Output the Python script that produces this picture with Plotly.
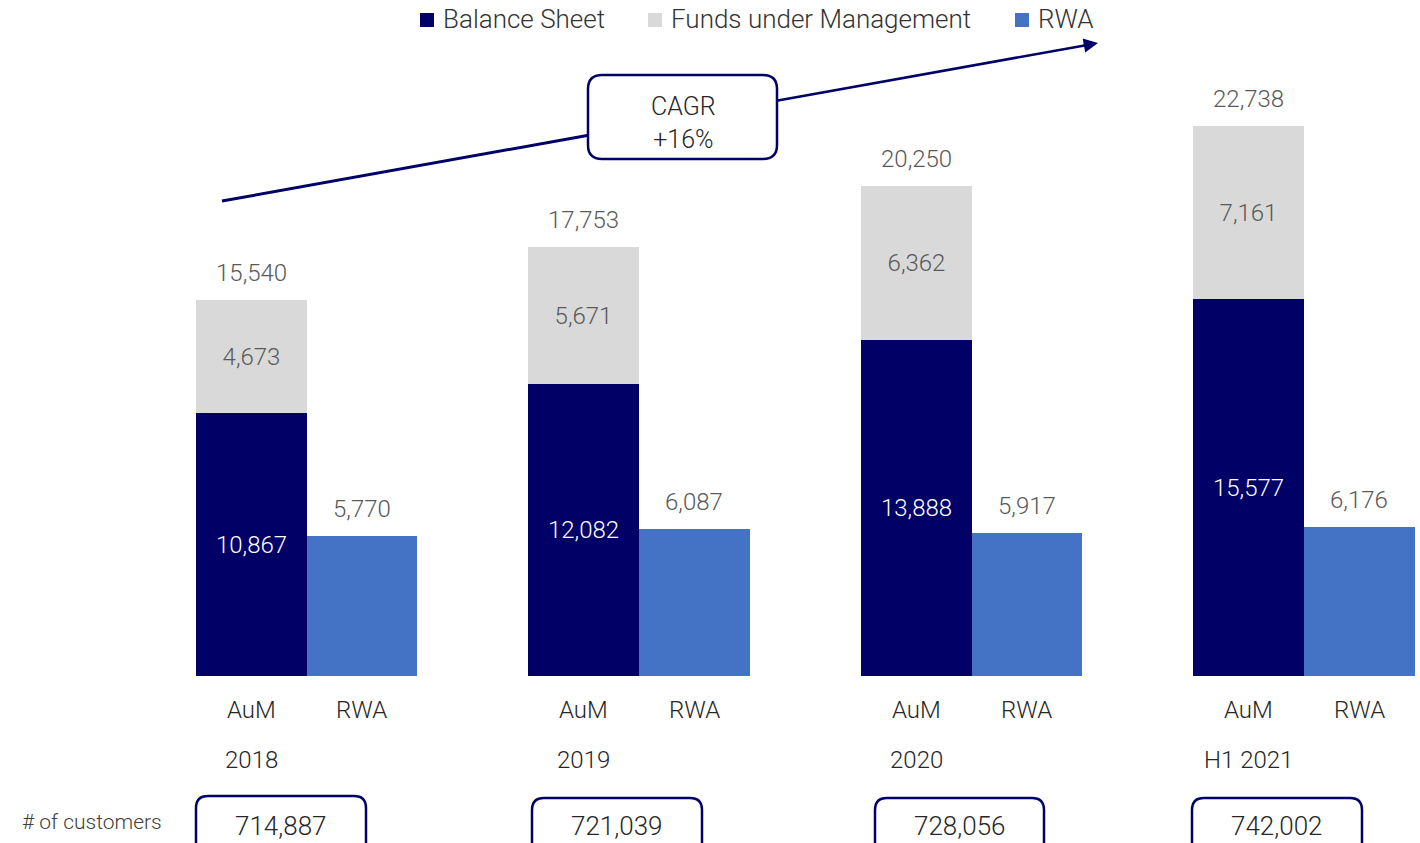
import plotly.graph_objects as go

# ---------------- data ----------------
periods = ["2018", "2019", "2020", "H1 2021"]
balance_sheet = [10867, 12082, 13888, 15577]
funds_under_mgmt = [4673, 5671, 6362, 7161]
rwa = [5770, 6087, 5917, 6176]
aum_total = [15540, 17753, 20250, 22738]
customers = [714887, 721039, 728056, 742002]
bar_labels = ["AuM", "RWA"]
series_names = ["Balance Sheet", "Funds under Management", "RWA"]
cagr_label = "CAGR<br>+16%"
customers_label = "# of customers"

# ---------------- style ----------------
W, H = 1420, 843
NAVY = "#000066"
GRAY = "#D9D9D9"
BLUE = "#4472C4"
VAL_TXT = "#595959"
DARK_TXT = "#262626"
FONT = "Roboto"
WT = 300


def px(x):
    return x / W


def py(y):
    return 1 - y / H


def fnt(size, color):
    return dict(size=size, color=color, family=FONT, weight=WT)


def rounded_rect(x0, y0, x1, y1, r):
    rx, ry = r / W, r / H
    X0, X1 = px(x0), px(x1)
    Y0, Y1 = py(y0), py(y1)
    return (
        f"M {X0 + rx},{Y0} L {X1 - rx},{Y0} Q {X1},{Y0} {X1},{Y0 - ry} "
        f"L {X1},{Y1 + ry} Q {X1},{Y1} {X1 - rx},{Y1} "
        f"L {X0 + rx},{Y1} Q {X0},{Y1} {X0},{Y1 + ry} "
        f"L {X0},{Y0 - ry} Q {X0},{Y0} {X0 + rx},{Y0} Z"
    )


bw = 1 / 3
idx = list(range(len(periods)))
aum_x = [i - bw / 2 for i in idx]
rwa_x = [i + bw / 2 for i in idx]
colors = [NAVY, GRAY, BLUE]

fig = go.Figure()
fig.add_trace(go.Bar(
    name=series_names[0], x=aum_x, y=balance_sheet, width=bw,
    marker=dict(color=NAVY, line=dict(width=0)),
    texttemplate="%{y:,.0f}", textposition="inside", insidetextanchor="middle",
    textfont=fnt(24, "white"), textangle=0, showlegend=False,
))
fig.add_trace(go.Bar(
    name=series_names[1], x=aum_x, y=funds_under_mgmt, width=bw,
    marker=dict(color=GRAY, line=dict(width=0)),
    texttemplate="%{y:,.0f}", textposition="inside", insidetextanchor="middle",
    textfont=fnt(24, VAL_TXT), textangle=0, showlegend=False,
))
fig.add_trace(go.Bar(
    name=series_names[2], x=rwa_x, y=rwa, width=bw,
    marker=dict(color=BLUE, line=dict(width=0)), showlegend=False,
))

annotations = []
shapes = []

# custom legend
leg_sq_x = [420, 648, 1015]
for sx, name, col in zip(leg_sq_x, series_names, colors):
    shapes.append(dict(type="rect", xref="paper", yref="paper",
                       x0=px(sx), x1=px(sx + 14), y0=py(27), y1=py(13),
                       fillcolor=col, line=dict(width=0)))
    annotations.append(dict(
        x=px(sx + 21), y=py(19), xref="paper", yref="paper", text=name,
        showarrow=False, xanchor="left", yanchor="middle", font=fnt(26, "#333333"),
    ))

# totals above AuM and values above RWA
for xv, yv in list(zip(aum_x, aum_total)) + list(zip(rwa_x, rwa)):
    annotations.append(dict(
        x=xv, y=yv, xref="x", yref="y", text=f"{yv:,}", showarrow=False,
        yanchor="bottom", yshift=11, font=fnt(24, VAL_TXT),
    ))
# AuM / RWA labels and period labels
for i in idx:
    for xv, lab in zip([aum_x[i], rwa_x[i]], bar_labels):
        annotations.append(dict(
            x=xv, y=py(710), xref="x", yref="paper", text=lab, showarrow=False,
            yanchor="middle", font=fnt(24, DARK_TXT),
        ))
    annotations.append(dict(
        x=aum_x[i], y=py(760), xref="x", yref="paper", text=periods[i], showarrow=False,
        yanchor="middle", font=fnt(24, DARK_TXT),
    ))

# customer boxes
box_x = [(196, 366), (532, 702), (875, 1044), (1192, 1362)]
box_top = [796, 798, 798, 798]
for (x0, x1), top, c in zip(box_x, box_top, customers):
    shapes.append(dict(type="path", xref="paper", yref="paper",
                       path=rounded_rect(x0, top, x1, top + 70, 12),
                       line=dict(color=NAVY, width=2.5), fillcolor="white"))
    annotations.append(dict(
        x=px((x0 + x1) / 2), y=py(826), xref="paper", yref="paper", text=f"{c:,}",
        showarrow=False, xanchor="center", yanchor="middle", font=fnt(26, DARK_TXT),
    ))
annotations.append(dict(
    x=px(20), y=py(822), xref="paper", yref="paper", text=customers_label,
    showarrow=False, xanchor="left", yanchor="middle", font=fnt(21, "#404040"),
))

# CAGR arrow + box
shapes.append(dict(type="line", xref="paper", yref="paper",
                   x0=px(222), y0=py(201), x1=px(590), y1=py(135),
                   line=dict(color=NAVY, width=3)))
annotations.append(dict(
    x=px(1098), y=py(43), xref="paper", yref="paper", text="",
    showarrow=True, ax=775 - 1098, ay=101 - 43, axref="pixel", ayref="pixel",
    arrowhead=2, arrowsize=1.1, arrowwidth=2.6, arrowcolor=NAVY, standoff=0,
))
shapes.append(dict(type="path", xref="paper", yref="paper",
                   path=rounded_rect(588, 75, 777, 159, 14),
                   line=dict(color=NAVY, width=2.5), fillcolor="white"))
annotations.append(dict(
    x=px(683), y=py(123), xref="paper", yref="paper", text=cagr_label,
    showarrow=False, yanchor="middle", align="center", font=fnt(25, DARK_TXT),
))

# axes: map data onto the pixel layout
grp0 = 306.5
step = 332.5
x_range = [-grp0 / step, (W - grp0) / step]
k = 0.02419  # px per unit
base = 676
y_range = [-(H - base) / k, base / k]

fig.update_layout(
    width=W, height=H,
    margin=dict(l=0, r=0, t=0, b=0, autoexpand=False),
    paper_bgcolor="white", plot_bgcolor="white",
    barmode="stack", bargap=0,
    font=dict(family=FONT, color=DARK_TXT),
    xaxis=dict(range=x_range, visible=False, fixedrange=True),
    yaxis=dict(range=y_range, visible=False, fixedrange=True),
    showlegend=False,
    annotations=annotations,
    shapes=shapes,
)

fig.write_html(
    "out.html",
    config={"displayModeBar": False},
    post_script="document.body.style.margin='0';document.body.style.overflow='hidden';",
)
